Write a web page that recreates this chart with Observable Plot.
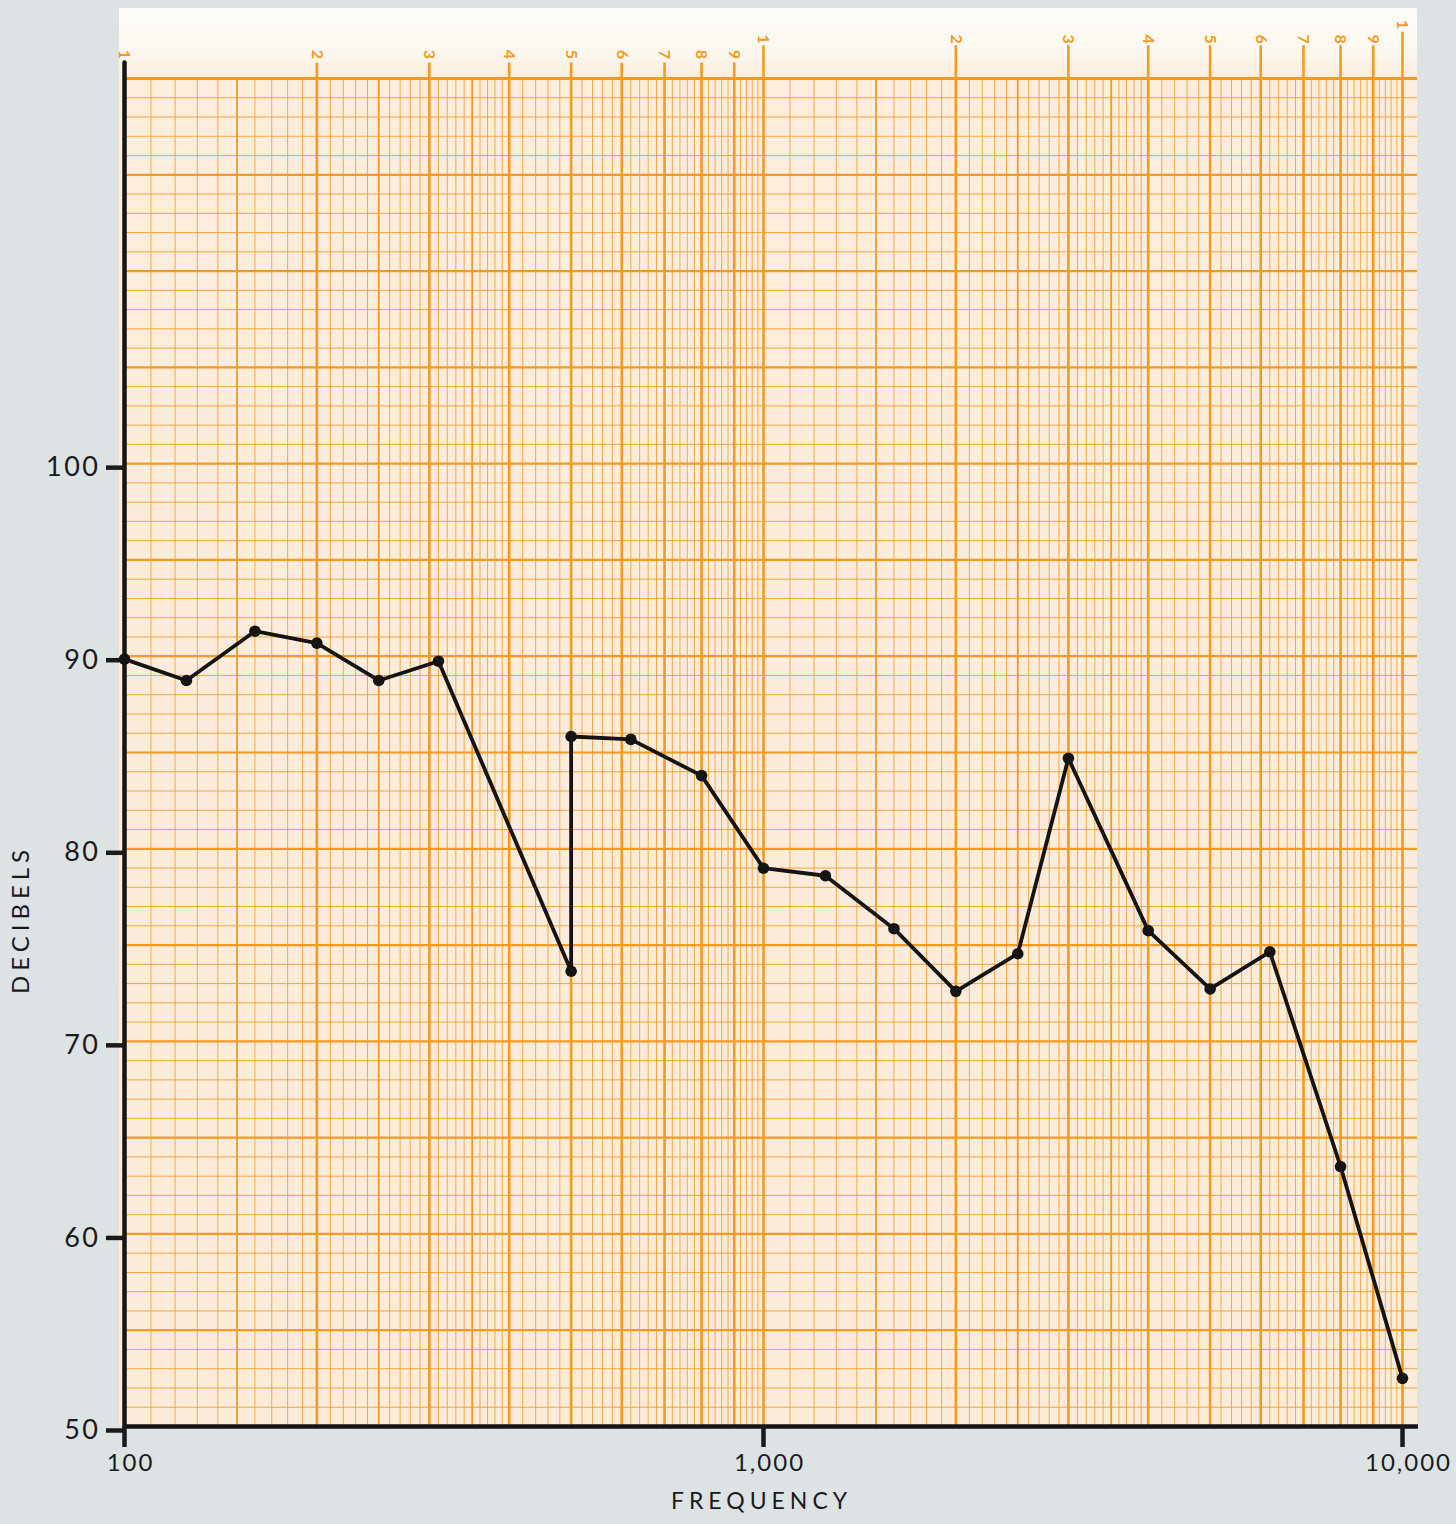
<!DOCTYPE html>
<html>
<head>
<meta charset="utf-8">
<script src="https://cdn.jsdelivr.net/npm/d3@7"></script>
<script src="https://cdn.jsdelivr.net/npm/@observablehq/plot@0.6"></script>
<style>
  html, body { margin: 0; padding: 0; background: #dde2e5; }
  #chart { width: 1456px; height: 1524px; }
</style>
</head>
<body>
<div id="chart"></div>
<script>
// ---- Data ----
const frequencies = [100, 125, 160, 200, 250, 310, 500, 500, 620, 800, 1000, 1250, 1600, 2000, 2500, 3000, 4000, 5000, 6200, 8000, 10000];
const decibels    = [89.85, 88.74, 91.3, 90.68, 88.74, 89.74, 73.64, 85.83, 85.68, 83.8, 78.99, 78.6, 75.85, 72.6, 74.55, 84.7, 75.75, 72.72, 74.65, 63.5, 52.5];

const yTickValues = [50, 60, 70, 80, 90, 100];
const xTickValues = [100, 1000, 10000];
const topTickLabels = ["1","2","3","4","5","6","7","8","9","1","2","3","4","5","6","7","8","9","1"];
const decadeStarts = [100, 1000];

// ---- Graph-paper structure ----
const points = frequencies.map((f, i) => ({f, db: decibels[i]}));

const orange = "#f39a22";
const minorFreqs = [], mediumFreqs = [];
for (const base of decadeStarts) {
  for (let k = 11; k < 40; k++) {           // 1.1 .. 3.9 step 0.1
    if (k % 10 === 0) continue;
    const v = base * k / 10;
    (k % 10 === 5 ? mediumFreqs : minorFreqs).push(v);
  }
  for (let k = 42; k < 100; k += 2) {       // 4.2 .. 9.8 step 0.2
    if (k % 10 === 0) continue;
    minorFreqs.push(base * k / 10);
  }
}
const stubTop = [120.8, 121.7, 122.4];     // top of each decade's labelled line
const labelY  = [121.25, 122.05, 122.8];
const majorLines = topTickLabels.map((label, i) => {
  const d = Math.floor(i / 9);
  const f = d < 2 ? decadeStarts[d] * (i % 9 + 1) : 10000;
  return {f, label, top: stubTop[d], ly: labelY[d]};
});
const minorDb = [], majorDb = [];
for (let v = 51; v < 120; v++) (v % 5 === 0 ? majorDb : minorDb).push(v);

const paper = [{x1: 98.2, x2: 10556, y1: 50, y2: 123.64}];
const gridRight = 10556;

const chart = Plot.plot({
  width: 1456,
  height: 1524,
  marginLeft: 124,
  marginRight: 54,
  marginTop: 78,
  marginBottom: 98,
  style: {background: "#dde2e5", fontFamily: "Lato, 'Noto Sans', sans-serif"},
  x: {type: "log", domain: [100, 10000], axis: null},
  y: {domain: [50, 120], axis: null},
  marks: [
    Plot.rect(paper, {x1: "x1", x2: "x2", y1: "y1", y2: "y2", fill: "url(#paperGrad)"}),
    Plot.ruleY(minorDb, {x1: 100, x2: gridRight, stroke: orange, strokeWidth: 1, strokeOpacity: 0.85}),
    Plot.ruleX(minorFreqs, {y1: 50, y2: 120, stroke: orange, strokeWidth: 1, strokeOpacity: 0.8}),
    Plot.ruleX(mediumFreqs, {y1: 50, y2: 120, stroke: orange, strokeWidth: 1.8}),
    Plot.ruleY(majorDb, {x1: 100, x2: gridRight, stroke: orange, strokeWidth: 2.2}),
    Plot.ruleX(majorLines, {x: "f", y1: 50, y2: "top", stroke: orange, strokeWidth: 2.6}),
    Plot.ruleY([120], {x1: 100, x2: gridRight, stroke: orange, strokeWidth: 3.2}),
    Plot.text(majorLines, {x: "f", y: "ly", text: "label", rotate: 90, fill: orange, fontSize: 16, fontWeight: "bold", textAnchor: "middle"}),
    // black axes
    Plot.ruleX([100], {y1: 50, y2: 120.8, stroke: "#151515", strokeWidth: 4.5, strokeLinecap: "round"}),
    Plot.ruleY([50], {x1: 100, x2: 10593, stroke: "#151515", strokeWidth: 4.5}),
    Plot.axisY({ticks: yTickValues, tickFormat: d => String(d), anchor: "left", tickSize: 18, tickPadding: 6,
      fontSize: 27, color: "#1a1a1a", strokeWidth: 4.5, dy: 4, label: null}),
    Plot.axisX({ticks: xTickValues, anchor: "bottom", tickSize: 21, text: null,
      color: "#1a1a1a", strokeWidth: 4.5, label: null}),
    Plot.axisX({ticks: xTickValues, tickFormat: d3.format(","), anchor: "bottom", tickSize: 0, tickPadding: 27,
      fontSize: 24, color: "#1a1a1a", dx: 6, label: null}),
    Plot.text(["FREQUENCY"], {frameAnchor: "bottom", dx: -2, dy: 82, fontSize: 23, fill: "#1a1a1a"}),
    Plot.text(["DECIBELS"], {frameAnchor: "left", textAnchor: "middle", rotate: -90, dx: -103, dy: 167, fontSize: 24, fill: "#1a1a1a"}),
    // data
    Plot.line(points, {x: "f", y: "db", stroke: "#141414", strokeWidth: 3.8, strokeLinejoin: "round"}),
    Plot.dot(points, {x: "f", y: "db", r: 5.8, fill: "#141414"})
  ]
});

const svg = d3.select(chart);
const defs = svg.insert("defs", ":first-child");
const grad = defs.append("linearGradient").attr("id", "paperGrad")
  .attr("x1", 0).attr("y1", 0).attr("x2", 0).attr("y2", 1);
[[0, "#fdfcf9"], [0.033, "#fcf7ef"], [0.048, "#fdeddd"], [1, "#fdebd9"]].forEach(([o, c]) =>
  grad.append("stop").attr("offset", o).attr("stop-color", c));

const spacing = {"FREQUENCY": "5px", "DECIBELS": "5px"};
svg.selectAll("text").each(function () {
  const t = this.textContent;
  if (spacing[t]) this.style.letterSpacing = spacing[t];
});
svg.selectAll('g[aria-label="y-axis tick label"] text').style("letter-spacing", "2.5px");
svg.selectAll('g[aria-label="x-axis tick label"] text').style("letter-spacing", "2px");

document.getElementById("chart").appendChild(chart);
</script>
</body>
</html>
